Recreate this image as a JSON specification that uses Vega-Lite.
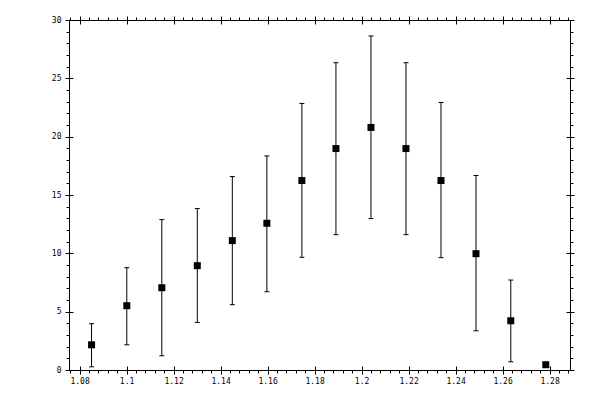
{
  "$schema": "https://vega.github.io/schema/vega-lite/v6.json",
  "autosize": "none",
  "width": 501,
  "height": 350,
  "padding": {"left": 69, "top": 20, "right": 30, "bottom": 30},
  "background": "white",
  "config": {
    "view": {"stroke": null},
    "axis": {
      "grid": false,
      "domainColor": "black",
      "domainWidth": 1,
      "tickColor": "black",
      "tickWidth": 1,
      "labelColor": "black",
      "labelFont": "DejaVu Sans Mono",
      "labelFontSize": 8,
      "labelOverlap": false,
      "labelFlush": false,
      "labelBound": false,
      "title": null
    }
  },
  "data": {
    "values": [
      {"x": 1.0851, "y": 2.16, "lo": 0.27, "hi": 3.97},
      {"x": 1.1001, "y": 5.51, "lo": 2.16, "hi": 8.77},
      {"x": 1.115, "y": 7.05, "lo": 1.22, "hi": 12.89},
      {"x": 1.1301, "y": 8.94, "lo": 4.08, "hi": 13.84},
      {"x": 1.145, "y": 11.09, "lo": 5.6, "hi": 16.58},
      {"x": 1.1597, "y": 12.58, "lo": 6.71, "hi": 18.35},
      {"x": 1.1746, "y": 16.24, "lo": 9.66, "hi": 22.85},
      {"x": 1.1891, "y": 18.98, "lo": 11.6, "hi": 26.34},
      {"x": 1.204, "y": 20.79, "lo": 12.98, "hi": 28.63},
      {"x": 1.2189, "y": 18.98, "lo": 11.6, "hi": 26.34},
      {"x": 1.2338, "y": 16.24, "lo": 9.63, "hi": 22.93},
      {"x": 1.2487, "y": 9.97, "lo": 3.36, "hi": 16.67},
      {"x": 1.2635, "y": 4.22, "lo": 0.7, "hi": 7.71},
      {"x": 1.2784, "y": 0.45, "lo": 0.25, "hi": 0.65}
    ]
  },
  "resolve": {"axis": {"x": "independent", "y": "independent"}},
  "layer": [
    {
      "mark": {"type": "rule", "color": "black", "strokeWidth": 1},
      "encoding": {
        "x": {
          "field": "x", "type": "quantitative",
          "scale": {"domain": [1.0755, 1.2887], "nice": false, "zero": false},
          "axis": {
            "orient": "bottom",
            "values": [1.076, 1.08, 1.084, 1.088, 1.092, 1.096, 1.1, 1.104, 1.108, 1.112, 1.116, 1.12, 1.124, 1.128, 1.132, 1.136, 1.14, 1.144, 1.148, 1.152, 1.156, 1.16, 1.164, 1.168, 1.172, 1.176, 1.18, 1.184, 1.188, 1.192, 1.196, 1.2, 1.204, 1.208, 1.212, 1.216, 1.22, 1.224, 1.228, 1.232, 1.236, 1.24, 1.244, 1.248, 1.252, 1.256, 1.26, 1.264, 1.268, 1.272, 1.276, 1.28, 1.284, 1.288],
            "tickSize": {"condition": {"test": "abs(datum.value*50 - round(datum.value*50)) < 0.01", "value": 4}, "value": 3},
            "labelExpr": "abs(datum.value*50 - round(datum.value*50)) < 0.01 ? format(datum.value, '.2~f') : ''",
            "labelPadding": 3
          }
        },
        "y": {
          "field": "lo", "type": "quantitative",
          "scale": {"domain": [0, 30], "nice": false},
          "axis": {
            "orient": "left",
            "values": [0, 1, 2, 3, 4, 5, 6, 7, 8, 9, 10, 11, 12, 13, 14, 15, 16, 17, 18, 19, 20, 21, 22, 23, 24, 25, 26, 27, 28, 29, 30],
            "tickSize": {"condition": {"test": "datum.value % 5 == 0", "value": 4}, "value": 3},
            "labelExpr": "datum.value % 5 == 0 ? format(datum.value, 'd') : ''",
            "labelPadding": 4
          }
        },
        "y2": {"field": "hi"}
      }
    },
    {
      "mark": {"type": "tick", "orient": "horizontal", "size": 5, "thickness": 1, "color": "black", "opacity": 1},
      "encoding": {
        "x": {
          "field": "x", "type": "quantitative",
          "axis": {
            "orient": "top",
            "values": [1.076, 1.08, 1.084, 1.088, 1.092, 1.096, 1.1, 1.104, 1.108, 1.112, 1.116, 1.12, 1.124, 1.128, 1.132, 1.136, 1.14, 1.144, 1.148, 1.152, 1.156, 1.16, 1.164, 1.168, 1.172, 1.176, 1.18, 1.184, 1.188, 1.192, 1.196, 1.2, 1.204, 1.208, 1.212, 1.216, 1.22, 1.224, 1.228, 1.232, 1.236, 1.24, 1.244, 1.248, 1.252, 1.256, 1.26, 1.264, 1.268, 1.272, 1.276, 1.28, 1.284, 1.288],
            "tickSize": {"condition": {"test": "abs(datum.value*50 - round(datum.value*50)) < 0.01", "value": 4}, "value": 3},
            "labels": false
          }
        },
        "y": {
          "field": "lo", "type": "quantitative",
          "axis": {
            "orient": "right",
            "values": [0, 1, 2, 3, 4, 5, 6, 7, 8, 9, 10, 11, 12, 13, 14, 15, 16, 17, 18, 19, 20, 21, 22, 23, 24, 25, 26, 27, 28, 29, 30],
            "tickSize": {"condition": {"test": "datum.value % 5 == 0", "value": 4}, "value": 3},
            "labels": false
          }
        }
      }
    },
    {
      "mark": {"type": "tick", "orient": "horizontal", "size": 5, "thickness": 1, "color": "black", "opacity": 1},
      "encoding": {
        "x": {
          "field": "x", "type": "quantitative",
          "axis": {
            "orient": "bottom",
            "values": [1.08, 1.1, 1.12, 1.14, 1.16, 1.18, 1.2, 1.22, 1.24, 1.26, 1.28],
            "tickSize": -4,
            "domain": false,
            "labels": false
          }
        },
        "y": {
          "field": "hi", "type": "quantitative",
          "axis": {
            "orient": "left",
            "values": [0, 5, 10, 15, 20, 25, 30],
            "tickSize": -4,
            "domain": false,
            "labels": false
          }
        }
      }
    },
    {
      "mark": {"type": "point", "shape": "square", "filled": true, "size": 49, "color": "black", "opacity": 1},
      "encoding": {
        "x": {
          "field": "x", "type": "quantitative",
          "axis": {
            "orient": "top",
            "values": [1.08, 1.1, 1.12, 1.14, 1.16, 1.18, 1.2, 1.22, 1.24, 1.26, 1.28],
            "tickSize": -4,
            "domain": false,
            "labels": false
          }
        },
        "y": {
          "field": "y", "type": "quantitative",
          "axis": {
            "orient": "right",
            "values": [0, 5, 10, 15, 20, 25, 30],
            "tickSize": -4,
            "domain": false,
            "labels": false
          }
        }
      }
    }
  ]
}
